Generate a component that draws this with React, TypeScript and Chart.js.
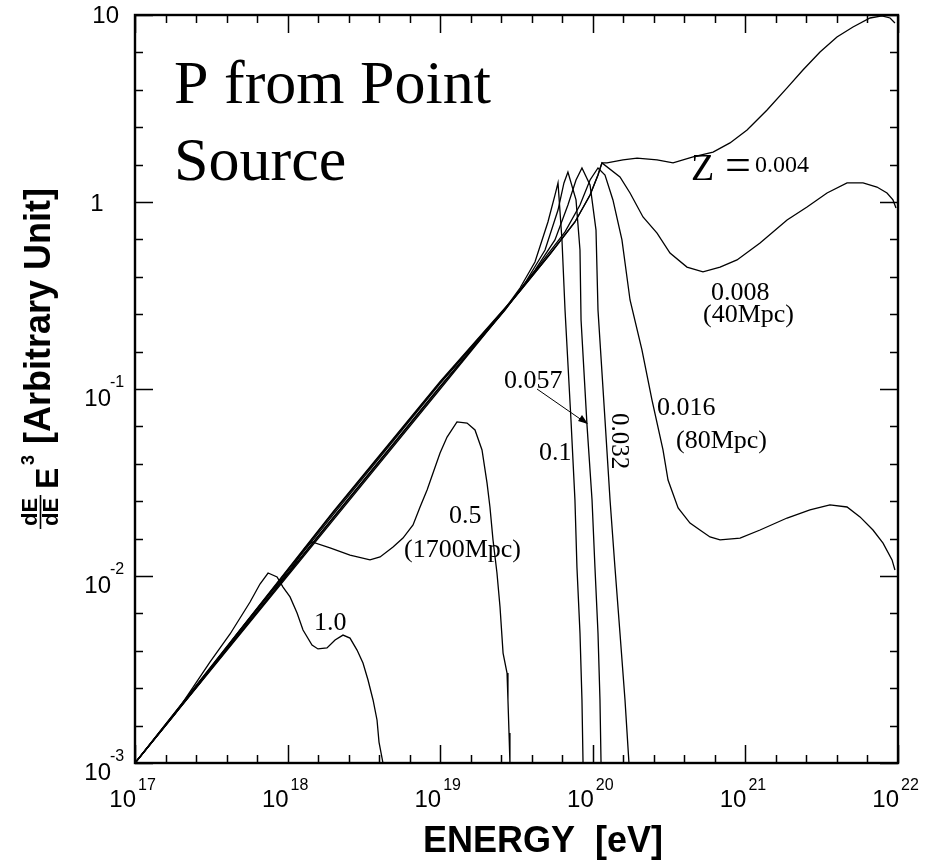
import React, { useEffect, useRef } from "react";
import { Chart, registerables } from "chart.js";

Chart.register(...registerables);

// ---------- data (log10 of energy [eV] and log10 of dF/dE*E^3) ----------
const xDecades = [17, 18, 19, 20, 21, 22];
const yDecades = [-3, -2, -1, 0, 1];

const z1_0_logE = [17.000, 17.262, 17.360, 17.491, 17.623, 17.754, 17.819, 17.872, 17.931, 17.970, 18.016, 18.062, 18.101, 18.160, 18.199, 18.258, 18.311, 18.363, 18.409, 18.455, 18.494, 18.527, 18.560, 18.586, 18.599, 18.625];
const z1_0_logF = [-3.000, -2.738, -2.620, -2.460, -2.310, -2.139, -2.043, -1.984, -2.005, -2.059, -2.112, -2.198, -2.289, -2.369, -2.390, -2.385, -2.342, -2.316, -2.332, -2.396, -2.465, -2.556, -2.663, -2.770, -2.888, -3.000];

const z0_5_logE = [17.000, 17.426, 17.688, 17.885, 18.016, 18.114, 18.160, 18.278, 18.409, 18.540, 18.606, 18.691, 18.756, 18.822, 18.868, 18.914, 18.953, 18.999, 19.045, 19.110, 19.176, 19.228, 19.274, 19.307, 19.326, 19.346, 19.372, 19.392, 19.412, 19.438, 19.444, 19.451, 19.457];
const z0_5_logF = [-3.000, -2.572, -2.289, -2.091, -1.973, -1.850, -1.818, -1.850, -1.888, -1.914, -1.898, -1.845, -1.797, -1.727, -1.631, -1.540, -1.449, -1.342, -1.257, -1.176, -1.182, -1.219, -1.326, -1.503, -1.631, -1.807, -1.984, -2.166, -2.412, -2.519, -2.663, -2.840, -3.000];

const z0_1_logE = [17.000, 18.300, 19.000, 19.392, 19.523, 19.621, 19.706, 19.752, 19.772, 19.798, 19.818, 19.857, 19.883, 19.896, 19.916, 19.929, 19.936];
const z0_1_logF = [-3.000, -1.670, -0.970, -0.608, -0.460, -0.321, -0.107, 0.037, 0.102, -0.203, -0.578, -1.166, -1.594, -1.952, -2.305, -2.663, -3.000];

const z0_057_logE = [17.000, 18.300, 19.000, 19.425, 19.556, 19.687, 19.772, 19.811, 19.837, 19.890, 19.916, 19.923, 19.962, 19.995, 20.014, 20.034, 20.047, 20.054];
const z0_057_logF = [-3.000, -1.685, -0.985, -0.578, -0.433, -0.257, -0.043, 0.102, 0.160, 0.011, -0.257, -0.631, -1.193, -1.594, -1.952, -2.305, -2.663, -3.000];

const z0_032_logE = [17.000, 18.300, 19.000, 19.457, 19.621, 19.752, 19.837, 19.890, 19.929, 19.982, 20.021, 20.034, 20.080, 20.113, 20.145, 20.178, 20.211, 20.237];
const z0_032_logF = [-3.000, -1.660, -0.965, -0.540, -0.364, -0.203, -0.016, 0.118, 0.182, 0.091, -0.150, -0.578, -1.166, -1.594, -1.952, -2.305, -2.663, -3.000];

const z0_016_logE = [17.000, 18.300, 19.000, 19.490, 19.687, 19.818, 19.916, 19.982, 20.034, 20.080, 20.132, 20.191, 20.244, 20.322, 20.388, 20.460, 20.493, 20.559, 20.637, 20.702, 20.768, 20.834, 20.965, 21.096, 21.273, 21.423, 21.554, 21.666, 21.751, 21.836, 21.902, 21.961, 21.980];
const z0_016_logF = [-3.000, -1.690, -0.990, -0.508, -0.299, -0.160, -0.016, 0.118, 0.182, 0.144, 0.011, -0.203, -0.524, -0.791, -1.059, -1.326, -1.487, -1.636, -1.717, -1.754, -1.791, -1.807, -1.797, -1.754, -1.690, -1.647, -1.620, -1.631, -1.684, -1.754, -1.824, -1.914, -1.968];

const z0_008_logE = [17.000, 18.300, 19.000, 19.523, 19.720, 19.883, 19.982, 20.034, 20.060, 20.178, 20.244, 20.329, 20.421, 20.506, 20.617, 20.722, 20.834, 20.945, 21.096, 21.273, 21.404, 21.535, 21.666, 21.771, 21.862, 21.928, 21.967, 21.987];
const z0_008_logF = [-3.000, -1.655, -0.960, -0.476, -0.278, -0.107, 0.037, 0.144, 0.209, 0.134, 0.048, -0.080, -0.166, -0.273, -0.348, -0.374, -0.348, -0.310, -0.219, -0.096, -0.027, 0.048, 0.102, 0.102, 0.080, 0.048, 0.011, -0.032];

const z0_004_logE = [17.000, 18.300, 19.000, 19.523, 19.720, 19.883, 19.982, 20.034, 20.060, 20.093, 20.198, 20.290, 20.421, 20.526, 20.657, 20.788, 20.899, 21.011, 21.142, 21.273, 21.377, 21.489, 21.600, 21.705, 21.817, 21.895, 21.948, 21.980];
const z0_004_logF = [-3.000, -1.700, -1.000, -0.476, -0.278, -0.107, 0.037, 0.144, 0.209, 0.209, 0.225, 0.235, 0.225, 0.209, 0.241, 0.267, 0.316, 0.385, 0.492, 0.610, 0.706, 0.802, 0.882, 0.936, 0.984, 0.995, 0.984, 0.957];

const curves = [
  { label: "z=1.0", e: z1_0_logE, f: z1_0_logF },
  { label: "z=0.5", e: z0_5_logE, f: z0_5_logF },
  { label: "z=0.1", e: z0_1_logE, f: z0_1_logF },
  { label: "z=0.057", e: z0_057_logE, f: z0_057_logF },
  { label: "z=0.032", e: z0_032_logE, f: z0_032_logF },
  { label: "z=0.016", e: z0_016_logE, f: z0_016_logF },
  { label: "z=0.008", e: z0_008_logE, f: z0_008_logF },
  { label: "z=0.004", e: z0_004_logE, f: z0_004_logF },
];

const SANS = '"Liberation Sans", Arial, Helvetica, sans-serif';
const SERIF = '"Liberation Serif", "Times New Roman", Times, serif';

function toPoints(e: number[], f: number[]) {
  return e.map((v, i) => ({ x: Math.pow(10, v), y: Math.pow(10, f[i]) }));
}

const overlay = {
  id: "overlay",
  beforeDraw(chart: any) {
    const ctx = chart.ctx;
    ctx.save();
    ctx.fillStyle = "#fff";
    ctx.fillRect(0, 0, chart.width, chart.height);
    ctx.restore();
  },
  afterDraw(chart: any) {
    const ctx: CanvasRenderingContext2D = chart.ctx;
    const a = chart.chartArea;
    const xs = chart.scales.x;
    const ys = chart.scales.y;
    ctx.save();
    ctx.strokeStyle = "#000";
    ctx.fillStyle = "#000";

    // tick marks (inward, every 0.2 decade; long at decades) on all four sides
    ctx.lineWidth = 1.5;
    const x0 = xDecades[0], x1 = xDecades[xDecades.length - 1];
    const nx = Math.round((x1 - x0) / 0.2);
    for (let i = 0; i <= nx; i++) {
      const px = Math.round(xs.getPixelForValue(Math.pow(10, x0 + i * 0.2))) + 0.5;
      const len = i % 5 === 0 ? 18 : 8;
      ctx.beginPath();
      ctx.moveTo(px, a.bottom);
      ctx.lineTo(px, a.bottom - len);
      ctx.moveTo(px, a.top);
      ctx.lineTo(px, a.top + len);
      ctx.stroke();
    }
    const y0 = yDecades[0], y1 = yDecades[yDecades.length - 1];
    const ny = Math.round((y1 - y0) / 0.2);
    for (let i = 0; i <= ny; i++) {
      const py = Math.round(ys.getPixelForValue(Math.pow(10, y0 + i * 0.2))) + 0.5;
      const len = i % 5 === 0 ? 18 : 8;
      ctx.beginPath();
      ctx.moveTo(a.left, py);
      ctx.lineTo(a.left + len, py);
      ctx.moveTo(a.right, py);
      ctx.lineTo(a.right - len, py);
      ctx.stroke();
    }

    // frame
    ctx.lineWidth = 2.4;
    ctx.strokeRect(a.left, a.top, a.right - a.left, a.bottom - a.top);

    // x tick labels
    ctx.textBaseline = "alphabetic";
    for (const d of xDecades) {
      const px = xs.getPixelForValue(Math.pow(10, d));
      ctx.font = `24px ${SANS}`;
      ctx.textAlign = "right";
      ctx.fillText("10", px + 1, a.bottom + 44);
      ctx.font = `16px ${SANS}`;
      ctx.textAlign = "left";
      ctx.fillText(String(d), px + 3, a.bottom + 27);
    }
    // y tick labels
    for (const d of yDecades) {
      const py = ys.getPixelForValue(Math.pow(10, d));
      if (d === 1) {
        ctx.font = `24px ${SANS}`;
        ctx.textAlign = "right";
        ctx.fillText("10", a.left - 16, py + 8);
      } else if (d === 0) {
        ctx.font = `24px ${SANS}`;
        ctx.textAlign = "center";
        ctx.fillText("1", a.left - 38, py + 9);
      } else {
        ctx.font = `24px ${SANS}`;
        ctx.textAlign = "right";
        ctx.fillText("10", a.left - 24, py + 17);
        ctx.font = `16px ${SANS}`;
        ctx.textAlign = "left";
        ctx.fillText(String(d), a.left - 25, py - 2);
      }
    }

    // x axis title
    ctx.font = `bold 36px ${SANS}`;
    ctx.textAlign = "center";
    ctx.fillText("ENERGY  [eV]", 543, 852);

    // y axis title (rotated)
    ctx.save();
    ctx.rotate(-Math.PI / 2);
    ctx.textAlign = "center";
    ctx.font = `bold 22px ${SANS}`;
    ctx.fillText("dE", -512, 37);
    ctx.fillText("dE", -512, 58);
    ctx.lineWidth = 1.6;
    ctx.beginPath();
    ctx.moveTo(-529, 40.5);
    ctx.lineTo(-495, 40.5);
    ctx.stroke();
    ctx.textAlign = "left";
    ctx.font = `bold 32px ${SANS}`;
    ctx.fillText("E", -489, 58);
    ctx.font = `bold 18px ${SANS}`;
    ctx.fillText("3", -465, 34);
    ctx.font = `bold 36px ${SANS}`;
    ctx.fillText("[Arbitrary Unit]", -444, 50);
    ctx.restore();

    // annotations
    ctx.textAlign = "left";
    ctx.font = `62px ${SERIF}`;
    ctx.fillText("P from Point", 174, 103);
    ctx.fillText("Source", 174, 180);

    ctx.font = `38px ${SERIF}`;
    ctx.fillText("Z", 691, 180);
    ctx.font = `46px ${SERIF}`;
    ctx.fillText("=", 725, 180);
    ctx.font = `24px ${SERIF}`;
    ctx.fillText("0.004", 755, 172);

    ctx.font = `26px ${SERIF}`;
    ctx.fillText("0.008", 711, 300);
    ctx.fillText("(40Mpc)", 703, 322);
    ctx.fillText("0.016", 657, 415);
    ctx.fillText("(80Mpc)", 676, 448);
    ctx.fillText("0.057", 504, 388);
    ctx.fillText("0.1", 539, 460);
    ctx.fillText("0.5", 449, 523);
    ctx.fillText("(1700Mpc)", 404, 557);
    ctx.fillText("1.0", 314, 630);

    // rotated 0.032 label
    ctx.save();
    ctx.translate(612, 413);
    ctx.rotate(Math.PI / 2);
    ctx.font = `25px ${SERIF}`;
    ctx.textAlign = "left";
    ctx.fillText("0.032", 0, 0);
    ctx.restore();

    // arrow from 0.057 label to its curve
    ctx.lineWidth = 1;
    ctx.beginPath();
    ctx.moveTo(537, 389);
    ctx.lineTo(586, 423);
    ctx.stroke();
    ctx.beginPath();
    ctx.moveTo(588, 424);
    ctx.lineTo(578, 421);
    ctx.lineTo(582, 415);
    ctx.closePath();
    ctx.fill();

    ctx.restore();
  },
};

export default function App() {
  const ref = useRef<HTMLCanvasElement | null>(null);
  useEffect(() => {
    if (!ref.current) return;
    const chart = new Chart(ref.current, {
      type: "scatter",
      data: {
        datasets: curves.map((c) => ({
          label: c.label,
          data: toPoints(c.e, c.f),
          showLine: true,
          borderColor: "#000",
          backgroundColor: "#000",
          borderWidth: 1.3,
          pointRadius: 0,
          pointHoverRadius: 0,
          fill: false,
          tension: 0,
        })),
      },
      options: {
        animation: false,
        responsive: false,
        devicePixelRatio: 1,
        events: [],
        layout: { padding: { left: 135, top: 15, right: 45, bottom: 100 } },
        plugins: { legend: { display: false }, tooltip: { enabled: false }, title: { display: false } },
        scales: {
          x: { type: "logarithmic", min: 1e17, max: 1e22, display: false },
          y: { type: "logarithmic", min: 1e-3, max: 10, display: false },
        },
      } as any,
      plugins: [overlay as any],
    });
    return () => chart.destroy();
  }, []);
  return (
    <div style={{ position: "absolute", left: 0, top: 0, width: 943, height: 863, background: "#fff" }}>
      <canvas ref={ref} width={943} height={863} style={{ display: "block" }} />
    </div>
  );
}
